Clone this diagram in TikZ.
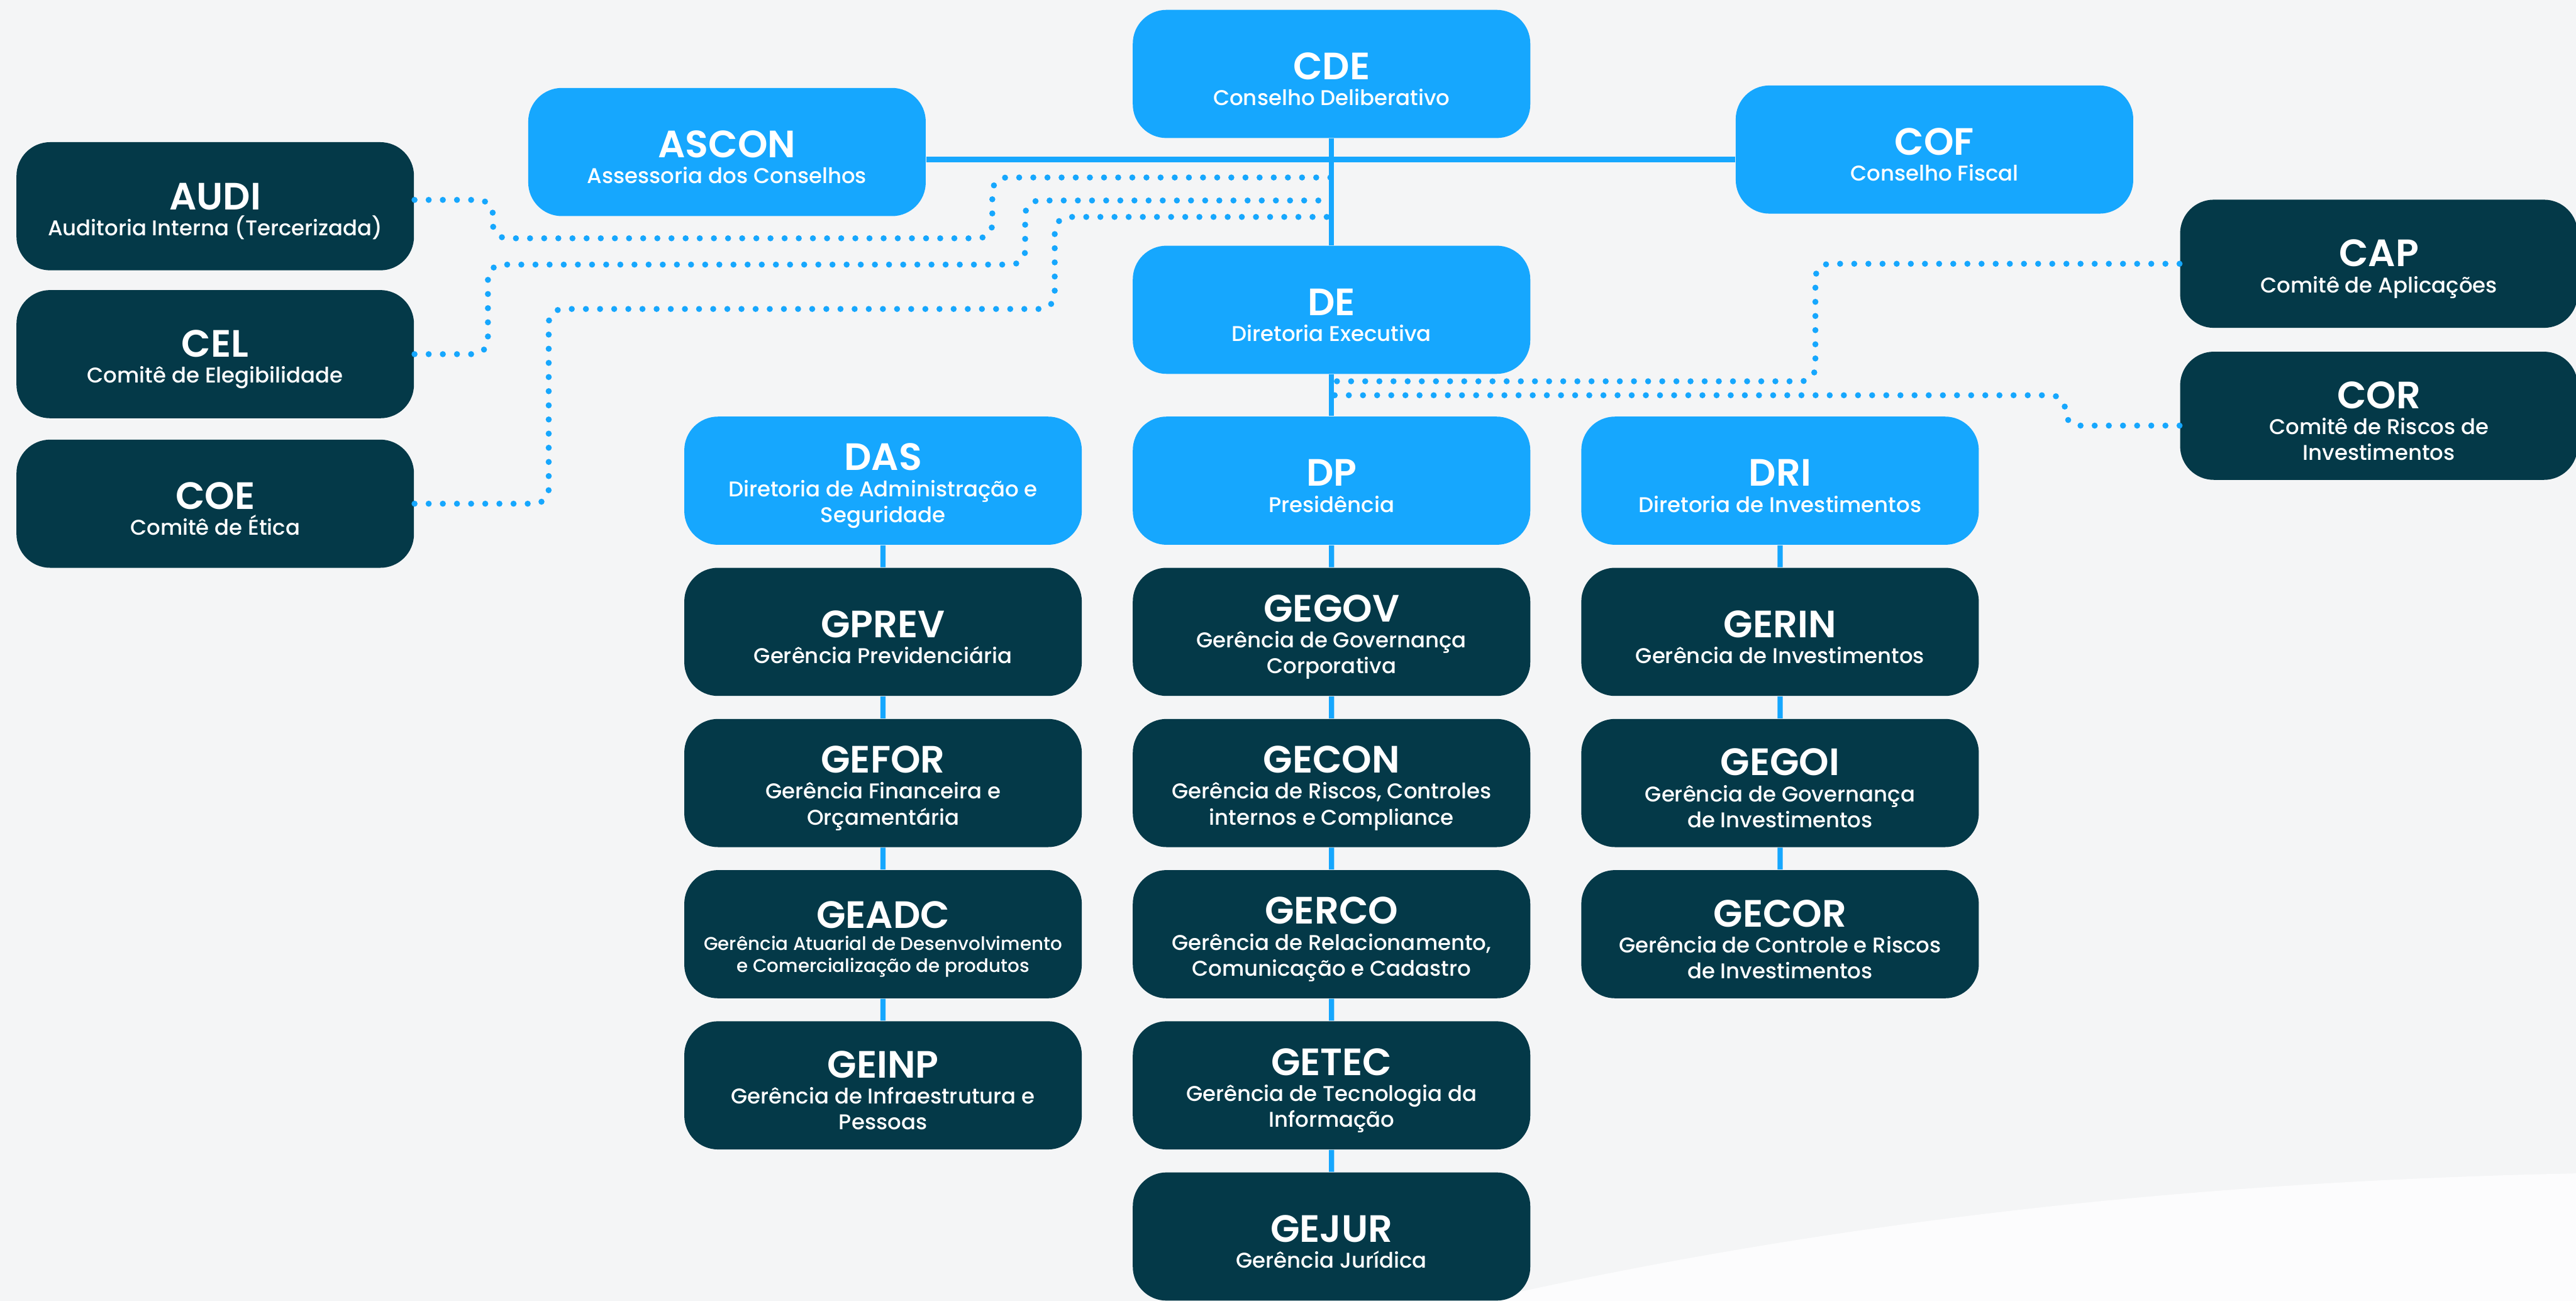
\documentclass[tikz,border=0pt]{standalone}
\usepackage{fontspec}
\setmainfont{Poppins}[UprightFont={* Medium}, BoldFont={* SemiBold}]
\definecolor{skyblue}{HTML}{16A7FE}
\definecolor{deepteal}{HTML}{043948}
\definecolor{paper}{HTML}{F4F5F6}
\newcommand{\sigla}[1]{{\fontsize{13.2}{9}\selectfont\bfseries\rule{0pt}{12.9pt}#1}}

\begin{document}
\begin{tikzpicture}[x=0.02cm, y=-0.02cm,
    box/.style={rounded corners=0.41cm, minimum width=4.84cm,
      minimum height=1.56cm, inner sep=0pt, align=center, text=white,
      font=\fontsize{7.4}{9}\selectfont},
    light/.style={box, fill=skyblue}, dark/.style={box, fill=deepteal},
    link/.style={draw=skyblue, line width=1.8pt},
    dots/.style={draw=skyblue, line width=2.1pt, line cap=round,
      dash pattern=on 0pt off 4.9pt, rounded corners=5pt},
    level distance=1.84cm, every child node/.style={dark},
    edge from parent/.style={link}]
  % fundo
  \clip (0,0) rectangle (1568,791.6);
  \fill[paper] (0,0) rectangle (1568,791.6);
  \fill[white!75!paper] (900,791.6) .. controls (1150,735) and (1380,718) .. (1568,714)
    -- (1568,791.6) -- cycle;

  % conselhos e diretoria executiva
  \node[light] (cde) at (810.5,45) {\sigla{CDE}\\Conselho Deliberativo};
  \node[light] (ascon) at (442.5,92.5) {\sigla{ASCON}\\Assessoria dos Conselhos};
  \node[light] (cof) at (1177.5,91) {\sigla{COF}\\Conselho Fiscal};
  \node[light] (de) at (810.5,188.5) {\sigla{DE}\\Diretoria Executiva};

  % comites
  \node[dark] (audi) at (131,125.5) {\sigla{AUDI}\\Auditoria Interna (Tercerizada)};
  \node[dark] (cel) at (131,215.5) {\sigla{CEL}\\Comitê de Elegibilidade};
  \node[dark] (coe) at (131,306.5) {\sigla{COE}\\Comitê de Ética};
  \node[dark] (cap) at (1448,160.5) {\sigla{CAP}\\Comitê de Aplicações};
  \node[dark] (cor) at (1448,253) {\sigla{COR}\\Comitê de Riscos de\\Investimentos};

  % diretorias e gerencias
  \node[light] (das) at (537.5,292.5) {\sigla{DAS}\\Diretoria de Administração e\\Seguridade}
    child {node (gprev) {\sigla{GPREV}\\Gerência Previdenciária}
      child {node (gefor) {\sigla{GEFOR}\\Gerência Financeira e\\Orçamentária}
        child {node[font=\fontsize{6.4}{7.6}\selectfont] (geadc) {\sigla{GEADC}\\Gerência Atuarial de Desenvolvimento\\e Comercialização de produtos}
          child {node (geinp) {\sigla{GEINP}\\Gerência de Infraestrutura e\\Pessoas}}}}};
  \node[light] (dp) at (810.5,292.5) {\sigla{DP}\\Presidência}
    child {node (gegov) {\sigla{GEGOV}\\Gerência de Governança\\Corporativa}
      child {node (gecon) {\sigla{GECON}\\Gerência de Riscos, Controles\\internos e Compliance}
        child {node (gerco) {\sigla{GERCO}\\Gerência de Relacionamento,\\Comunicação e Cadastro}
          child {node (getec) {\sigla{GETEC}\\Gerência de Tecnologia da\\Informação}
            child {node (gejur) {\sigla{GEJUR}\\Gerência Jurídica}}}}}};
  \node[light] (dri) at (1083.5,292.5) {\sigla{DRI}\\Diretoria de Investimentos}
    child {node (gerin) {\sigla{GERIN}\\Gerência de Investimentos}
      child {node (gegoi) {\sigla{GEGOI}\\Gerência de Governança\\de Investimentos}
        child {node (gecor) {\sigla{GECOR}\\Gerência de Controle e Riscos\\de Investimentos}}}};

  % ligacoes
  \coordinate (ja) at (810.5,108);
  \coordinate (jb) at (810.5,122);
  \coordinate (jc) at (810.5,132);
  \coordinate (jd) at (810.5,232);
  \coordinate (je) at (810.5,240.5);
  \draw[link] (cde) -- (de);
  \draw[link] (de) -- (dp);
  \draw[link] ([yshift=-2.56pt]ascon.east) -- ([yshift=-2.56pt]ascon.east -| cof.west);
  \draw[dots] ([yshift=2.2pt]audi.east) -| (300,145) -| (604,108) -- (ja);
  \draw[dots] (cel.east) -| (297,161) -| (624,122) -- (jb);
  \draw[dots] (coe.east) -| (334,188) -| (642,132) -- (jc);
  \draw[dots] (cap.west) -| (1105,232) -- (jd);
  \draw[dots] ([yshift=-3.4pt]cor.west) -| (1257,240.5) -- (je);
\end{tikzpicture}
\end{document}
